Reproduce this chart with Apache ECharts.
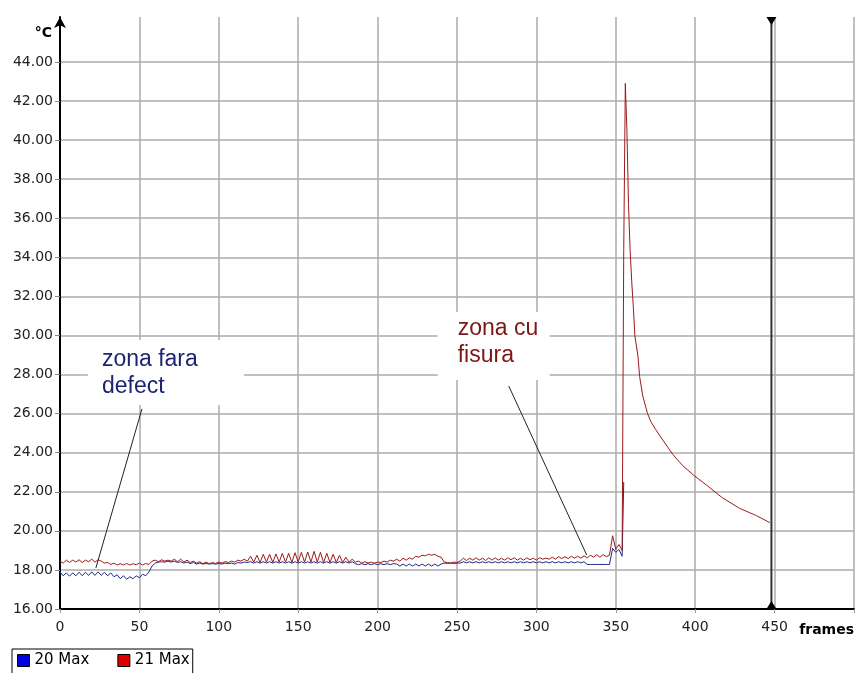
<!DOCTYPE html>
<html>
<head>
<meta charset="utf-8">
<script src="https://cdn.jsdelivr.net/npm/echarts@6/dist/echarts.min.js"></script>
<style>
html, body { margin: 0; padding: 0; background: #fff; }
#chart { width: 857px; height: 673px; }
</style>
</head>
<body>
<div id="chart"></div>
<script>
// temperature per frame, read every 2nd frame from 0 to 354
var FRAME_STEP = 2;

var blueVals = [
    17.9, 17.7, 17.85, 17.68, 17.85, 17.7, 17.88, 17.7, 17.88, 17.72, 17.9, 17.72, 17.9, 17.72, 17.88,
    17.7, 17.85, 17.65, 17.75, 17.55, 17.7, 17.52, 17.65, 17.55, 17.7, 17.6, 17.78, 17.7, 17.9,
    18.2, 18.35,
    18.4, 18.42, 18.4, 18.45, 18.4, 18.45, 18.38, 18.42, 18.35, 18.4, 18.32, 18.38, 18.3, 18.35, 18.3,
    18.33, 18.3, 18.32, 18.3, 18.33, 18.3, 18.35, 18.32, 18.35, 18.3, 18.38, 18.35, 18.4, 18.38,
    18.42, 18.35, 18.42, 18.35, 18.42, 18.35, 18.42, 18.35, 18.42, 18.35, 18.42, 18.35, 18.42, 18.35,
    18.42, 18.35, 18.42, 18.35, 18.42, 18.35, 18.42, 18.35, 18.42, 18.35, 18.42, 18.35, 18.42, 18.35,
    18.42, 18.35, 18.42, 18.35, 18.42,
    18.32, 18.27, 18.32, 18.27, 18.32, 18.27, 18.32, 18.27, 18.32, 18.27, 18.32, 18.27, 18.32,
    18.3, 18.2, 18.3, 18.2, 18.3, 18.2, 18.3, 18.2, 18.3, 18.2, 18.3, 18.2, 18.3, 18.2, 18.3,
    18.35, 18.33, 18.35, 18.33, 18.35, 18.35,
    18.42, 18.36, 18.42, 18.36, 18.42, 18.36, 18.42, 18.36, 18.42, 18.36, 18.42, 18.36, 18.42,
    18.36, 18.42, 18.36, 18.42, 18.36, 18.42, 18.36, 18.42, 18.36, 18.42, 18.36, 18.42, 18.36,
    18.42, 18.36, 18.42, 18.36, 18.42, 18.36, 18.42, 18.36, 18.42, 18.36, 18.42, 18.36, 18.42,
    18.28, 18.28, 18.28, 18.28, 18.28, 18.28, 18.28, 18.28,
    19.1, 18.9, 19.05, 18.7
];
var blueTail = [[355, 22.5]];

var redVals = [
    18.45, 18.35, 18.5, 18.38, 18.5, 18.4, 18.52, 18.38, 18.5, 18.42, 18.55, 18.4, 18.52,
    18.45, 18.35, 18.38, 18.28, 18.35, 18.25, 18.32, 18.25, 18.33, 18.25, 18.32, 18.27, 18.35, 18.25,
    18.33, 18.28,
    18.45, 18.5,
    18.42, 18.52, 18.45, 18.5, 18.45, 18.55, 18.42, 18.55, 18.4, 18.5, 18.38, 18.45, 18.35, 18.42,
    18.32, 18.4, 18.32, 18.38,
    18.33, 18.4, 18.35, 18.42, 18.38, 18.45, 18.4, 18.5, 18.45, 18.55, 18.45,
    18.7, 18.4, 18.75, 18.38, 18.8, 18.4, 18.8, 18.38, 18.82, 18.4, 18.85, 18.4, 18.85, 18.38, 18.88,
    18.4, 18.9, 18.4, 18.92, 18.4, 18.95, 18.4, 18.9, 18.38, 18.85, 18.38, 18.8, 18.38, 18.75, 18.38,
    18.65, 18.4, 18.55,
    18.4, 18.45, 18.35, 18.42, 18.35, 18.4, 18.35, 18.4, 18.38, 18.45, 18.4, 18.5, 18.45,
    18.55, 18.45, 18.6, 18.5, 18.62, 18.55, 18.7, 18.65, 18.75, 18.72, 18.8, 18.75, 18.8, 18.7, 18.65,
    18.4, 18.38, 18.35, 18.4, 18.38, 18.45,
    18.6, 18.48, 18.6, 18.5, 18.62, 18.5, 18.6, 18.48, 18.62, 18.5, 18.62, 18.5, 18.6, 18.5, 18.62,
    18.52, 18.62, 18.5, 18.6, 18.5, 18.62, 18.52, 18.6, 18.5, 18.62, 18.55, 18.6, 18.55, 18.65, 18.55,
    18.68, 18.58, 18.68, 18.58, 18.7, 18.6, 18.7, 18.6, 18.72,
    18.62, 18.75, 18.65, 18.78, 18.65, 18.78, 18.68, 18.75,
    19.75, 19.05, 19.3, 19.0
];
// spike and cool-down after the crack zone, [frame, value]
var redTail = [
    [355, 34.4], [356, 42.9], [357, 40.5], [358, 36.7], [359, 34.4], [360, 32.8], [361, 31.5],
    [362, 30.0], [364, 28.9], [365, 27.9], [367, 26.9], [370, 26.0], [372, 25.6], [375, 25.2],
    [380, 24.6], [386, 23.9], [392, 23.35], [399, 22.85], [407, 22.35], [417, 21.7], [428, 21.15],
    [438, 20.8], [447, 20.42]
];

var yTicks = [16, 18, 20, 22, 24, 26, 28, 30, 32, 34, 36, 38, 40, 42, 44];
var cursorFrame = 448;

function toPairs(vals, tail) {
    var out = [];
    for (var i = 0; i < vals.length; i++) {
        out.push([i * FRAME_STEP, vals[i]]);
    }
    return out.concat(tail);
}

var gridColor = '#ababab';
var axisFont = 'DejaVu Sans';

var option = {
    animation: false,
    backgroundColor: '#fff',
    grid: { left: 60, right: 2, top: 17, bottom: 64 },
    legend: {
        left: 12,
        top: 649,
        padding: [4, 3, 6, 5],
        itemWidth: 12,
        itemHeight: 12,
        itemGap: 28,
        borderColor: '#000',
        borderWidth: 1,
        backgroundColor: '#fff',
        textStyle: { fontFamily: axisFont, fontSize: 15, color: '#000' },
        data: [
            { name: '20 Max', icon: 'rect', itemStyle: { color: '#0000e0', borderColor: '#000', borderWidth: 1 } },
            { name: '21 Max', icon: 'rect', itemStyle: { color: '#e00000', borderColor: '#000', borderWidth: 1 } }
        ]
    },
    xAxis: {
        type: 'value',
        min: 0,
        max: 500,
        interval: 50,
        name: 'frames',
        nameLocation: 'end',
        nameGap: 0,
        nameTextStyle: {
            fontFamily: axisFont, fontSize: 14, fontWeight: 'bold', color: '#000',
            align: 'right', verticalAlign: 'top', padding: [14, 0, 0, 0]
        },
        axisLine: { lineStyle: { color: '#000', width: 2 } },
        axisTick: { length: 4, lineStyle: { color: '#999' } },
        axisLabel: {
            fontFamily: axisFont, fontSize: 14, color: '#222', margin: 11,
            formatter: function (v) { return v >= 500 ? '' : String(v); }
        },
        splitLine: { show: true, lineStyle: { color: gridColor, width: 1.5 } }
    },
    yAxis: {
        type: 'value',
        min: 16,
        max: 46.3,
        name: '°C',
        nameLocation: 'end',
        nameGap: -16,
        nameTextStyle: {
            fontFamily: axisFont, fontSize: 14, fontWeight: 'bold', color: '#000',
            align: 'right', verticalAlign: 'middle', padding: [0, 8, 0, 0]
        },
        axisLine: {
            show: true,
            symbol: ['none', 'arrow'],
            symbolSize: [9, 11],
            lineStyle: { color: '#000', width: 2 }
        },
        axisTick: { show: true, length: 5, customValues: yTicks, lineStyle: { color: '#888' } },
        axisLabel: {
            customValues: yTicks,
            fontFamily: axisFont, fontSize: 14, color: '#222', margin: 7,
            formatter: function (v) { return v.toFixed(2); }
        },
        splitLine: { show: true, lineStyle: { color: gridColor, width: 1.5 } }
    },
    series: [
        {
            name: '20 Max',
            type: 'line',
            data: toPairs(blueVals, blueTail),
            showSymbol: false,
            lineStyle: { color: '#1f2b85', width: 1 },
            itemStyle: { color: '#0000e0' },
            z: 3
        },
        {
            name: '21 Max',
            type: 'line',
            data: toPairs(redVals, redTail),
            showSymbol: false,
            lineStyle: { color: '#9c1a1a', width: 1 },
            itemStyle: { color: '#e00000' },
            z: 4,
            markLine: {
                silent: true,
                animation: false,
                symbol: ['none', 'none'],
                lineStyle: { color: '#222', width: 1, type: 'solid' },
                label: { show: false },
                data: [
                    [{ coord: [51.6, 26.24] }, { coord: [22.6, 18.1] }],
                    [{ coord: [282.6, 27.41] }, { coord: [331.7, 18.76] }]
                ]
            },
            markPoint: {
                silent: true,
                animation: false,
                data: [
                    {
                        coord: [66.7, 28.1],
                        symbol: 'rect',
                        symbolSize: [156, 65],
                        itemStyle: { color: '#fff' },
                        label: {
                            show: true, position: [14, 6], align: 'left', verticalAlign: 'top',
                            formatter: 'zona fara\ndefect', color: '#1c2670',
                            fontFamily: 'Liberation Sans', fontSize: 23, lineHeight: 27
                        }
                    },
                    {
                        coord: [273.1, 29.46],
                        symbol: 'rect',
                        symbolSize: [112, 68],
                        itemStyle: { color: '#fff' },
                        label: {
                            show: true, position: [20, 3], align: 'left', verticalAlign: 'top',
                            formatter: 'zona cu\nfisura', color: '#7d1616',
                            fontFamily: 'Liberation Sans', fontSize: 23, lineHeight: 27
                        }
                    }
                ]
            }
        },
        {
            name: 'cursor',
            type: 'line',
            clip: false,
            symbol: 'triangle',
            symbolSize: [10, 8],
            showSymbol: true,
            lineStyle: { color: '#333', width: 2 },
            itemStyle: { color: '#000' },
            z: 5,
            data: [
                { value: [cursorFrame, 16], symbolRotate: 0, symbolOffset: [0, -4] },
                { value: [cursorFrame, 46.3], symbolRotate: 180, symbolOffset: [0, 4] }
            ]
        }
    ]
};

var chart = echarts.init(document.getElementById('chart'));
chart.setOption(option);
</script>
</body>
</html>
